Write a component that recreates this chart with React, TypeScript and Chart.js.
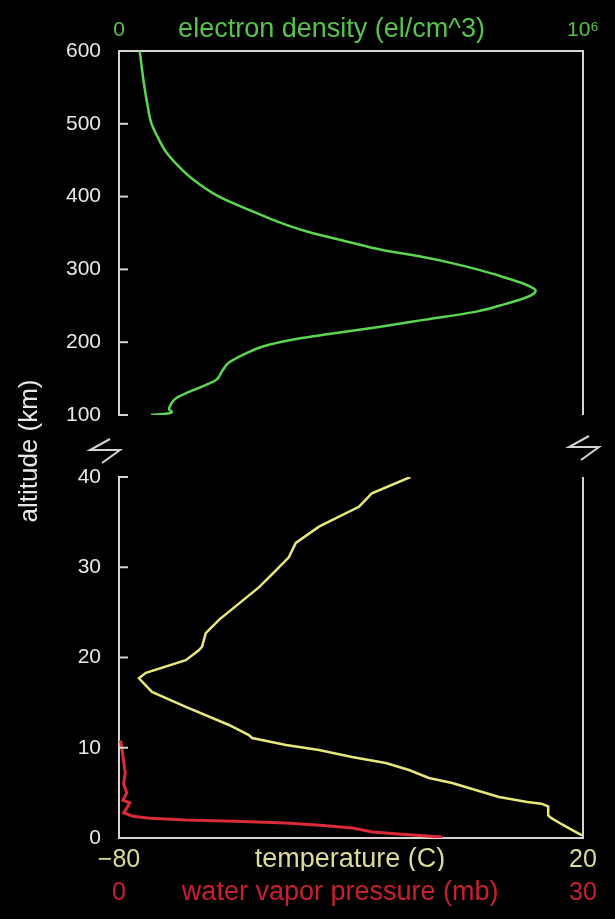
import { useEffect, useRef } from 'react';
import { Chart, registerables } from 'chart.js';

Chart.register(...registerables);

// ---------- data ----------
const densityAltitudeKm = [100, 102, 104, 108, 115, 123, 130, 139, 148, 160, 172, 185, 194, 203, 212, 221, 231, 242, 252, 258, 265, 271, 277, 283, 290, 300, 309, 318, 327, 337, 352, 366, 380, 400, 425, 444, 462, 481, 501, 522, 554, 600];
const electronDensity = [69000, 105000, 114000, 108000, 112000, 123000, 145000, 179000, 209000, 222000, 237000, 275000, 310000, 370000, 460000, 560000, 660000, 770000, 830000, 862000, 890000, 898000, 884000, 860000, 826000, 772000, 715000, 647000, 565000, 500000, 405000, 340000, 287000, 215500, 157000, 125000, 100700, 84000, 69600, 62500, 54000, 44600];

const tempAltitudeKm = [0.3, 0.8, 1.5, 2.2, 2.5, 3.5, 3.8, 4.0, 4.54, 6.09, 6.65, 7.53, 8.31, 8.98, 9.75, 10.3, 11.08, 11.41, 12.52, 14.52, 16.18, 17.7, 18.3, 19.7, 20.8, 21.2, 22.7, 24.2, 26.0, 27.8, 29.5, 31.1, 32.7, 34.5, 36.7, 37.5, 38.2, 40.0];
const temperatureC = [19.8, 18, 15.5, 13.2, 12.5, 12.5, 11, 8, 1.9, -8.2, -13.2, -17.5, -22.5, -29.8, -36.9, -44.0, -51.3, -52.0, -56.3, -65.6, -72.9, -75.7, -74.2, -65.6, -62.8, -62.1, -61.3, -58.4, -54.1, -49.8, -46.5, -43.4, -41.9, -36.9, -28.3, -26.8, -25.5, -17.2];

const wvAltitudeKm = [0.1, 0.4, 0.66, 1.1, 1.4, 1.66, 1.85, 2.0, 2.2, 2.4, 2.8, 3.3, 3.9, 4.2, 5.0, 6.0, 7.2, 8.5, 9.75, 10.8];
const waterVaporMb = [20.9, 18.5, 16.4, 15.1, 13.0, 10.8, 7.5, 4.3, 2.0, 0.9, 0.3, 0.5, 0.7, 0.25, 0.5, 0.3, 0.4, 0.3, 0.2, 0.1];

const densityTickValues = [0, 458000, 1000000];
const densityTickLabels = ['0', 'electron density (el/cm^3)', '10\u2076'];
const tempTickValues = [-80, -30.2, 20];
const tempTickLabels = ['\u221280', 'temperature (C)', '20'];
const wvTickValues = [0, 14.3, 30];
const wvTickLabels = ['0', 'water vapor pressure (mb)', '30'];
const altitudeTitle = 'altitude (km)';

// ---------- styles ----------
const FONT = "'Liberation Sans', Arial, sans-serif";
const FRAME = '#d4d4d4';
const TICK_TEXT = '#e8e8e8';
const GREEN_LINE = '#5cd650';
const GREEN_TEXT = '#58c24c';
const YELLOW_LINE = '#e8e87a';
const YELLOW_TEXT = '#dcdc96';
const RED_LINE = '#d92a38';
const RED_TEXT = '#c8202c';

const W = 615;
const H = 919;

function line(ctx: CanvasRenderingContext2D, x1: number, y1: number, x2: number, y2: number) {
  ctx.beginPath();
  ctx.moveTo(x1, y1);
  ctx.lineTo(x2, y2);
  ctx.stroke();
}

const framePlugin = {
  id: 'frameTicks',
  afterDraw(chart: any) {
    const { ctx, chartArea: a } = chart;
    const ys = chart.scales.y;
    ctx.save();
    ctx.strokeStyle = FRAME;
    ctx.lineWidth = 2;
    line(ctx, a.right, a.top, a.right, a.bottom);
    ys.ticks.forEach((t: any) => {
      const py = ys.getPixelForValue(t.value);
      line(ctx, a.left, py, a.left + 9, py);
    });
    ctx.restore();
  },
};

function drawBreak(ctx: CanvasRenderingContext2D, cx: number, cy: number) {
  ctx.beginPath();
  ctx.moveTo(cx + 6, cy - 12);
  ctx.lineTo(cx - 14, cy - 1);
  ctx.lineTo(cx + 16, cy - 1);
  ctx.lineTo(cx - 2, cy + 12);
  ctx.stroke();
}

const breakPlugin = {
  id: 'breakMarks',
  afterDraw(chart: any) {
    const { ctx, chartArea: a } = chart;
    ctx.save();
    ctx.strokeStyle = FRAME;
    ctx.lineWidth = 2;
    drawBreak(ctx, a.left - 15, a.bottom + 36);
    drawBreak(ctx, a.right, a.bottom + 33);
    ctx.fillStyle = TICK_TEXT;
    ctx.font = `26px ${FONT}`;
    ctx.textAlign = 'center';
    ctx.textBaseline = 'middle';
    ctx.translate(a.left - 89, a.bottom + 36);
    ctx.rotate(-Math.PI / 2);
    ctx.fillText(altitudeTitle, 0, 0);
    ctx.restore();
  },
};

function endFont(size: number) {
  return { family: FONT, size, lineHeight: '24px' };
}

function makeTopChart(canvas: HTMLCanvasElement) {
  return new Chart(canvas, {
    type: 'line',
    data: {
      datasets: [
        {
          data: densityAltitudeKm.map((alt, i) => ({ x: electronDensity[i], y: alt })),
          borderColor: GREEN_LINE,
          borderWidth: 2.5,
          pointRadius: 0,
          cubicInterpolationMode: 'monotone',
          xAxisID: 'x',
          yAxisID: 'y',
        },
      ],
    },
    options: {
      animation: false,
      responsive: false,
      devicePixelRatio: 1,
      indexAxis: 'y',
      events: [],
      layout: { padding: { left: 0, right: 32, top: 0, bottom: H - 415 } },
      plugins: { legend: { display: false }, tooltip: { enabled: false } },
      scales: {
        x: {
          type: 'linear',
          position: 'top',
          min: 0,
          max: 1000000,
          grid: { display: false, drawTicks: false },
          border: { display: true, color: FRAME, width: 2 },
          afterBuildTicks: (s: any) => {
            s.ticks = densityTickValues.map((v) => ({ value: v }));
          },
          afterFit: (s: any) => {
            s.height = 51;
          },
          ticks: {
            autoSkip: false,
            maxRotation: 0,
            padding: 9,
            color: GREEN_TEXT,
            font: (c: any) => endFont(c.index === 1 ? 27 : 21),
            callback: (_v: any, i: number) => densityTickLabels[i],
          },
        },
        y: {
          type: 'linear',
          position: 'left',
          min: 100,
          max: 600,
          grid: { display: false, drawTicks: false },
          border: { display: true, color: FRAME, width: 2 },
          afterFit: (s: any) => {
            s.width = 119;
          },
          ticks: {
            stepSize: 100,
            padding: 18,
            color: TICK_TEXT,
            font: { family: FONT, size: 21 },
          },
        },
      },
    },
    plugins: [framePlugin, breakPlugin],
  } as any);
}

function makeBottomChart(canvas: HTMLCanvasElement) {
  return new Chart(canvas, {
    type: 'line',
    data: {
      datasets: [
        {
          data: wvAltitudeKm.map((alt, i) => ({ x: waterVaporMb[i], y: alt })),
          borderColor: RED_LINE,
          borderWidth: 3,
          pointRadius: 0,
          tension: 0,
          xAxisID: 'wv',
          yAxisID: 'y',
        },
        {
          data: tempAltitudeKm.map((alt, i) => ({ x: temperatureC[i], y: alt })),
          borderColor: YELLOW_LINE,
          borderWidth: 2.5,
          pointRadius: 0,
          tension: 0,
          xAxisID: 'temp',
          yAxisID: 'y',
        },
      ],
    },
    options: {
      animation: false,
      responsive: false,
      devicePixelRatio: 1,
      indexAxis: 'y',
      events: [],
      layout: { padding: { left: 0, right: 32, top: 477, bottom: 0 } },
      plugins: { legend: { display: false }, tooltip: { enabled: false } },
      scales: {
        temp: {
          type: 'linear',
          position: 'bottom',
          weight: 0,
          min: -80,
          max: 20,
          grid: { display: false, drawTicks: false },
          border: { display: true, color: FRAME, width: 2 },
          afterBuildTicks: (s: any) => {
            s.ticks = tempTickValues.map((v) => ({ value: v }));
          },
          afterFit: (s: any) => {
            s.height = 33;
          },
          ticks: {
            autoSkip: false,
            maxRotation: 0,
            padding: 10,
            color: YELLOW_TEXT,
            font: (c: any) => endFont(c.index === 1 ? 27 : 25),
            callback: (_v: any, i: number) => tempTickLabels[i],
          },
        },
        wv: {
          type: 'linear',
          position: 'bottom',
          weight: 1,
          min: 0,
          max: 30,
          grid: { display: false, drawTicks: false },
          border: { display: false },
          afterBuildTicks: (s: any) => {
            s.ticks = wvTickValues.map((v) => ({ value: v }));
          },
          afterFit: (s: any) => {
            s.height = 48;
          },
          ticks: {
            autoSkip: false,
            maxRotation: 0,
            padding: 10,
            color: RED_TEXT,
            font: (c: any) => endFont(c.index === 1 ? 27 : 25),
            callback: (_v: any, i: number) => wvTickLabels[i],
          },
        },
        y: {
          type: 'linear',
          position: 'left',
          min: 0,
          max: 40,
          grid: { display: false, drawTicks: false },
          border: { display: true, color: FRAME, width: 2 },
          afterFit: (s: any) => {
            s.width = 119;
          },
          ticks: {
            stepSize: 10,
            padding: 18,
            color: TICK_TEXT,
            font: { family: FONT, size: 21 },
          },
        },
      },
    },
    plugins: [framePlugin],
  } as any);
}

export default function App() {
  const topRef = useRef<HTMLCanvasElement>(null);
  const bottomRef = useRef<HTMLCanvasElement>(null);

  useEffect(() => {
    document.body.style.margin = '0';
    document.body.style.background = '#000';
    const top = makeTopChart(topRef.current!);
    const bottom = makeBottomChart(bottomRef.current!);
    return () => {
      top.destroy();
      bottom.destroy();
    };
  }, []);

  const canvasStyle: any = { position: 'absolute', left: 0, top: 0, width: W, height: H };
  return (
    <div style={{ position: 'fixed', left: 0, top: 0, width: W, height: H, background: '#000', overflow: 'hidden' }}>
      <canvas ref={topRef} width={W} height={H} style={canvasStyle} />
      <canvas ref={bottomRef} width={W} height={H} style={canvasStyle} />
    </div>
  );
}
